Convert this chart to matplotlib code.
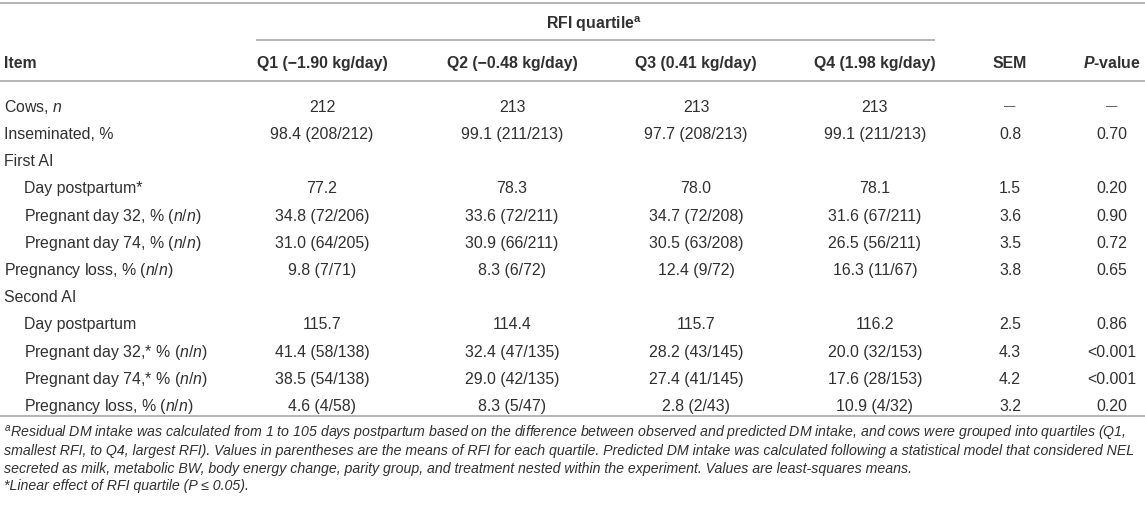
import matplotlib
matplotlib.use("Agg")
import matplotlib.pyplot as plt

plt.rcParams['font.family'] = ['Liberation Sans', 'DejaVu Sans']
plt.rcParams['mathtext.fontset'] = 'custom'
plt.rcParams['mathtext.rm'] = 'Liberation Sans'
plt.rcParams['mathtext.it'] = 'Liberation Sans:italic'
plt.rcParams['mathtext.bf'] = 'Liberation Sans:bold'
plt.rcParams['mathtext.bfit'] = 'Liberation Sans:italic:bold'

# ---------------- data ----------------
group_header = "RFI quartile$^{\\mathbf{a}}$"
column_headers = ["Item", "Q1 (\u22121.90 kg/day)", "Q2 (\u22120.48 kg/day)",
                  "Q3 (0.41 kg/day)", "Q4 (1.98 kg/day)", "SEM", "$\\mathbfit{P}$-value"]
items = ["Cows, $\\mathit{n}$", "Inseminated, %", "First AI", "Day postpartum*",
         "Pregnant day 32, % ($\\mathit{n/n}$)", "Pregnant day 74, % ($\\mathit{n/n}$)",
         "Pregnancy loss, % ($\\mathit{n/n}$)", "Second AI", "Day postpartum",
         "Pregnant day 32,* % ($\\mathit{n/n}$)", "Pregnant day 74,* % ($\\mathit{n/n}$)",
         "Pregnancy loss, % ($\\mathit{n/n}$)"]
item_indent = [0, 0, 0, 1, 1, 1, 0, 0, 1, 1, 1, 1]
q1 = ["212", "98.4 (208/212)", "", "77.2", "34.8 (72/206)", "31.0 (64/205)", "9.8 (7/71)",
      "", "115.7", "41.4 (58/138)", "38.5 (54/138)", "4.6 (4/58)"]
q2 = ["213", "99.1 (211/213)", "", "78.3", "33.6 (72/211)", "30.9 (66/211)", "8.3 (6/72)",
      "", "114.4", "32.4 (47/135)", "29.0 (42/135)", "8.3 (5/47)"]
q3 = ["213", "97.7 (208/213)", "", "78.0", "34.7 (72/208)", "30.5 (63/208)", "12.4 (9/72)",
      "", "115.7", "28.2 (43/145)", "27.4 (41/145)", "2.8 (2/43)"]
q4 = ["213", "99.1 (211/213)", "", "78.1", "31.6 (67/211)", "26.5 (56/211)", "16.3 (11/67)",
      "", "116.2", "20.0 (32/153)", "17.6 (28/153)", "10.9 (4/32)"]
sem = ["\u2014", "0.8", "", "1.5", "3.6", "3.5", "3.8", "", "2.5", "4.3", "4.2", "3.2"]
pvalue = ["\u2014", "0.70", "", "0.20", "0.90", "0.72", "0.65", "", "0.86", "<0.001", "<0.001", "0.20"]
footnotes = [
    "$^{\\mathit{a}}$Residual DM intake was calculated from 1 to 105 days postpartum based on the difference between observed and predicted DM intake, and cows were grouped into quartiles (Q1,",
    "smallest RFI, to Q4, largest RFI). Values in parentheses are the means of RFI for each quartile. Predicted DM intake was calculated following a statistical model that considered NEL",
    "secreted as milk, metabolic BW, body energy change, parity group, and treatment nested within the experiment. Values are least-squares means.",
    "*Linear effect of RFI quartile (P \u2264 0.05).",
]

# ---------------- layout ----------------
W, H = 1145, 506
TXT = "#303030"
RULE = "#ababab"
fig = plt.figure(figsize=(W / 100, H / 100), dpi=100)
ax = fig.add_axes([0, 0, 1, 1])
ax.set_xlim(0, W)
ax.set_ylim(H, 0)
ax.axis("off")
fig.canvas.draw()
renderer = fig.canvas.get_renderer()


def width_px(s, size, **kw):
    t = ax.text(0, 0, s, fontsize=size, **kw)
    w = t.get_window_extent(renderer).width
    t.remove()
    return w


# fit sizes so texts match their measured widths in the reference
fs = 11.4 * 131.0 / width_px(column_headers[1], 11.4, fontweight="bold")
fn_fs = 11.0 * 1121.0 / width_px(footnotes[0], 11.0, style="italic")


def put(x, yc, s, size=None, ha="center", base=None, **kw):
    size = size or fs
    b = base or size
    p = b * 100 / 72.0
    ax.text(x, yc + 0.36 * p, s, fontsize=size, ha=ha, va="baseline", color=TXT, **kw)


col_x = [4, 322, 512, 696, 875, 1010, 1112]
lw = 1.7 * 72 / 100

# rules
ax.plot([0, W], [4, 4], color=RULE, lw=lw, solid_capstyle="butt")
ax.plot([256, 935], [41, 41], color=RULE, lw=lw, solid_capstyle="butt")
ax.plot([0, W], [82, 82], color=RULE, lw=lw, solid_capstyle="butt")
ax.plot([0, W], [417, 417], color=RULE, lw=lw, solid_capstyle="butt")

# headers
put((256 + 935) / 2 - 2, 23, group_header, fontweight="bold")
put(col_x[0], 62, column_headers[0], ha="left", fontweight="bold")
for x, h in zip(col_x[1:], column_headers[1:]):
    put(x, 62, h, fontweight="bold")

# body
row0, dy = 106, 27.2
cols = [q1, q2, q3, q4, sem, pvalue]
for i, it in enumerate(items):
    y = row0 + i * dy
    put(col_x[0] + 20 * item_indent[i], y, it, ha="left")
    for x, c in zip(col_x[1:], cols):
        if c[i] == "\u2014":
            put(x, y - 3, c[i], size=fs * 0.72, base=fs)
        elif c[i]:
            put(x, y, c[i])

# footnotes
for j, f in enumerate(footnotes):
    put(4, 433 + j * 17.3, f, size=fn_fs, ha="left", style="italic")

fig.savefig("out.png", dpi=100, facecolor="white")
